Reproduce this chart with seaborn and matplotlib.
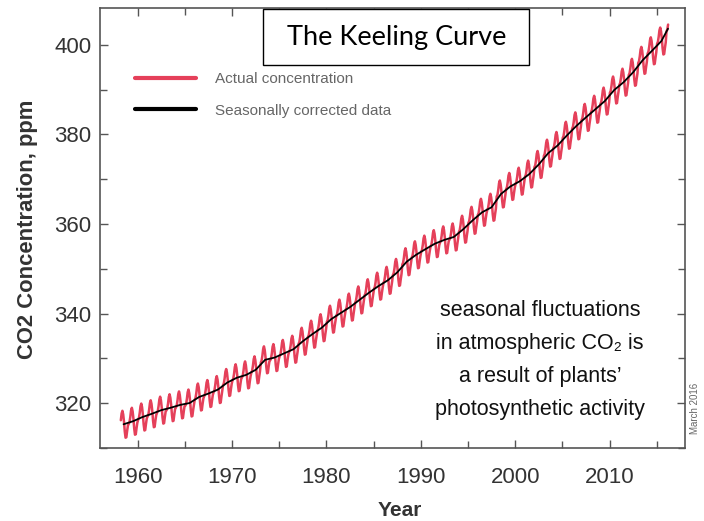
import numpy as np
import pandas as pd
import matplotlib
matplotlib.use("Agg")
import matplotlib.pyplot as plt
from matplotlib import font_manager
from matplotlib.patches import Rectangle
from matplotlib.ticker import MultipleLocator
import seaborn as sns

# annual mean CO2 (ppm), 1958-2016
years = list(range(1958, 2017))
annual_co2 = [315.3, 315.97, 316.91, 317.64, 318.45, 318.99, 319.62, 320.04, 321.38, 322.16,
              323.04, 324.62, 325.68, 326.32, 327.45, 329.68, 330.18, 331.11, 332.04, 333.83,
              335.40, 336.84, 338.75, 340.11, 341.45, 343.05, 344.65, 346.12, 347.42, 349.19,
              351.57, 353.12, 354.39, 355.61, 356.45, 357.10, 358.83, 360.82, 362.61, 363.73,
              366.70, 368.38, 369.55, 371.14, 373.28, 375.80, 377.52, 379.80, 381.90, 383.79,
              385.60, 387.43, 389.90, 391.65, 393.85, 396.52, 398.65, 400.83, 403.6]
# typical month-by-month offset from the annual mean (Jan..Dec)
month_offset = [-0.6, -0.2, 0.9, 2.4, 3.0, 2.2, 0.6, -1.6, -3.0, -2.9, -1.5, -0.3]
first_month = 2   # record starts March 1958
last_month = 2    # ends March 2016

rows = []
for i, y in enumerate(years):
    for m in range(12):
        if y == years[0] and m < first_month:
            continue
        if y == years[-1] and m > last_month:
            continue
        rows.append({"date": y + (m + 0.5) / 12, "co2": annual_co2[i] + month_offset[m]})
monthly = pd.DataFrame(rows)
trend = pd.DataFrame({"date": [y + 0.5 for y in years[:-1]] + [years[-1] + 0.2],
                      "co2": annual_co2})

sns.set_style("ticks")
names = {f.name for f in font_manager.fontManager.ttflist}
narrow = "Liberation Sans Narrow" in names
base = ["Liberation Sans", "DejaVu Sans"]
nar = (["Liberation Sans Narrow"] if narrow else []) + base
plt.rcParams["font.family"] = base

fig = plt.figure(figsize=(7.04, 5.21), dpi=100)
ax = fig.add_axes([100 / 704, 73 / 521, 585 / 704, 440 / 521])

red = "#e5405a"
sns.lineplot(data=monthly, x="date", y="co2", color=red, linewidth=1.8,
             estimator=None, ax=ax, label="Actual concentration")
sns.lineplot(data=trend, x="date", y="co2", color="black", linewidth=1.3,
             estimator=None, ax=ax, label="Seasonally corrected data")

ax.set_xlim(1956, 2018)
ax.set_ylim(310, 408.2)
ax.xaxis.set_major_locator(MultipleLocator(10))
ax.xaxis.set_minor_locator(MultipleLocator(5))
ax.yaxis.set_major_locator(MultipleLocator(20))
ax.yaxis.set_minor_locator(MultipleLocator(10))
ax.tick_params(which="both", direction="in", top=True, right=True, color="#555", width=1.0)
ax.tick_params(which="major", length=6)
ax.tick_params(which="minor", length=5)
ax.tick_params(axis="both", labelsize=16, labelcolor="#333")
ax.tick_params(axis="x", pad=14)
ax.tick_params(axis="y", pad=6)
for s in ax.spines.values():
    s.set_color("#555")
    s.set_linewidth(1.2)

ax.set_xlabel("Year", fontsize=15, fontweight="bold", color="#333")
ax.set_ylabel("CO2 Concentration, ppm", fontsize=15.8, fontweight="bold", color="#333")
ax.xaxis.set_label_coords(0.513, -0.12)
ax.yaxis.set_label_coords(-0.106, 0.498)

leg = ax.legend(loc="upper left", bbox_to_anchor=(0.06, 0.854), frameon=False,
                handlelength=4.0, handletextpad=1.2, labelspacing=1.15,
                borderpad=0, borderaxespad=0,
                prop={"family": nar, "size": 11 if not narrow else 12.5})
for t in leg.get_texts():
    t.set_color("#666")
for h in leg.get_lines():
    h.set_linewidth(3)

# title box
fig.patches.append(Rectangle((263 / 704, 1 - 65 / 521), 266 / 704, 56 / 521,
                             transform=fig.transFigure, facecolor="white",
                             edgecolor="black", linewidth=1.0, zorder=5))
fig.text(397 / 704, 1 - 38 / 521, "The Keeling Curve", ha="center", va="center",
         fontsize=19.5, family=["Lato", "DejaVu Sans"], color="black", zorder=6)

ax.text(0.752, 0.2,
        "seasonal fluctuations\nin atmospheric CO\u2082 is\na result of plants\u2019\nphotosynthetic activity",
        transform=ax.transAxes, ha="center", va="center", multialignment="center",
        fontsize=20 if narrow else 15.5, family=nar, linespacing=1.75, color="#111")

fig.text(695 / 704, 1 - 408 / 521, "March 2016", rotation=90, ha="center", va="center",
         fontsize=7, family=nar, color="#666")

fig.savefig("out.png", dpi=100)
